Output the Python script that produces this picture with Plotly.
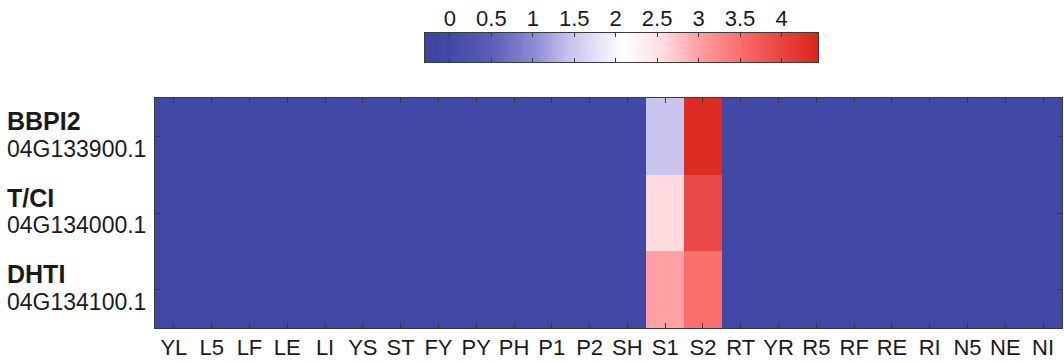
import numpy as np
import plotly.graph_objects as go

# Tissue / stage columns
tissues = ["YL", "L5", "LF", "LE", "LI", "YS", "ST", "FY", "PY", "PH", "P1", "P2",
           "SH", "S1", "S2", "RT", "YR", "R5", "RF", "RE", "RI", "N5", "NE", "NI"]

# Genes (rows, top to bottom)
gene_names = ["BBPI2", "T/CI", "DHTI"]
gene_ids = ["04G133900.1", "04G134000.1", "04G134100.1"]

# Expression values per gene (same order as tissues)
bbpi2 = [0, 0, 0, 0, 0, 0, 0, 0, 0, 0, 0, 0, 0, 1.45, 4.35, 0, 0, 0, 0, 0, 0, 0, 0, 0]
tci = [0, 0, 0, 0, 0, 0, 0, 0, 0, 0, 0, 0, 0, 2.6, 3.95, 0, 0, 0, 0, 0, 0, 0, 0, 0]
dhti = [0, 0, 0, 0, 0, 0, 0, 0, 0, 0, 0, 0, 0, 3.0, 3.5, 0, 0, 0, 0, 0, 0, 0, 0, 0]

# Colour scale limits and colourbar ticks
ZMIN, ZMAX = -0.3, 4.44
cbar_ticks = [0, 0.5, 1, 1.5, 2, 2.5, 3, 3.5, 4]
cbar_ticktext = ["0", "0.5", "1", "1.5", "2", "2.5", "3", "3.5", "4"]

# Blue-white-red scale anchored at data values
scale_stops = [
    (-0.3, "rgb(62,67,160)"),
    (0.0, "rgb(66,72,165)"),
    (0.5, "rgb(92,94,184)"),
    (1.0, "rgb(138,138,212)"),
    (1.45, "rgb(200,196,238)"),
    (2.1, "rgb(255,255,255)"),
    (2.6, "rgb(255,218,222)"),
    (3.0, "rgb(255,160,165)"),
    (3.5, "rgb(250,110,110)"),
    (3.95, "rgb(234,72,70)"),
    (4.44, "rgb(218,38,28)"),
]
colorscale = [[(v - ZMIN) / (ZMAX - ZMIN), c] for v, c in scale_stops]

FONT = "Liberation Sans, Arial, Helvetica, sans-serif"
TXT = "#1a1a1a"
LINE = "#3a3a3a"

z = [bbpi2, tci, dhti]

fig = go.Figure()

fig.add_trace(go.Heatmap(
    z=z,
    x=list(range(len(tissues))),
    y=list(range(len(gene_names))),
    colorscale=colorscale,
    zmin=ZMIN, zmax=ZMAX,
    showscale=False,
    xaxis="x", yaxis="y",
))

# Colour bar drawn as a one-row heatmap on its own axes
levels = np.linspace(ZMIN, ZMAX, 300)
fig.add_trace(go.Heatmap(
    z=[levels],
    x=levels,
    y=[0.5],
    colorscale=colorscale,
    zmin=ZMIN, zmax=ZMAX,
    showscale=False,
    xaxis="x2", yaxis="y2",
    hoverinfo="skip",
))

W, H = 1064, 363
ML, MR, MT, MB = 155, 2, 0, 35
plot_h = H - MT - MB  # 328
main_top_px = 98
y_main_top = (plot_h - main_top_px) / plot_h

cb_left, cb_right, cb_top, cb_bot = 425, 818, 33, 62
plot_w = W - ML - MR

fig.update_layout(
    width=W, height=H,
    margin=dict(l=ML, r=MR, t=MT, b=MB),
    paper_bgcolor="white", plot_bgcolor="white",
    font=dict(family=FONT, color=TXT),
    xaxis=dict(
        domain=[0, 1],
        range=[-0.5, len(tissues) - 0.5],
        tickvals=list(range(len(tissues))),
        ticktext=tissues,
        tickfont=dict(size=22, family=FONT, color=TXT),
        ticks="inside", ticklen=5, tickcolor=LINE, tickwidth=1,
        showline=True, linecolor=LINE, linewidth=1, mirror="ticks",
        showgrid=False, zeroline=False, anchor="y",
    ),
    yaxis=dict(
        domain=[0, y_main_top],
        range=[len(gene_names) - 0.5, -0.5],
        tickvals=list(range(len(gene_names))),
        ticktext=["" for _ in gene_names],
        ticks="inside", ticklen=5, tickcolor=LINE, tickwidth=1,
        showline=True, linecolor=LINE, linewidth=1, mirror="ticks",
        showgrid=False, zeroline=False, anchor="x",
    ),
    xaxis2=dict(
        domain=[(cb_left - ML) / plot_w, (cb_right - ML) / plot_w],
        range=[ZMIN, ZMAX],
        tickvals=cbar_ticks, ticktext=cbar_ticktext,
        side="top",
        tickfont=dict(size=22, family=FONT, color=TXT),
        ticks="inside", ticklen=4, tickcolor=LINE, tickwidth=1,
        ticklabelstandoff=-3,
        showline=True, linecolor=LINE, linewidth=1, mirror="ticks",
        showgrid=False, zeroline=False, anchor="y2",
    ),
    yaxis2=dict(
        domain=[(plot_h - cb_bot) / plot_h, (plot_h - cb_top) / plot_h],
        range=[0, 1],
        showticklabels=False, ticks="",
        showline=True, linecolor=LINE, linewidth=1, mirror=True,
        showgrid=False, zeroline=False, anchor="x2",
    ),
)

# Gene labels on the left: bold name above the locus id
label_x = (5 - ML) / plot_w
for i, (name, gid) in enumerate(zip(gene_names, gene_ids)):
    fig.add_annotation(
        x=label_x, xref="paper", xanchor="left",
        y=i - 0.2, yref="y", yanchor="middle",
        text=f"<b>{name}</b>", showarrow=False,
        font=dict(size=25, family=FONT, color=TXT),
    )
    fig.add_annotation(
        x=label_x, xref="paper", xanchor="left",
        y=i + 0.16, yref="y", yanchor="middle",
        text=gid, showarrow=False,
        font=dict(size=23, family=FONT, color=TXT),
    )

fig.write_html("out.html")
